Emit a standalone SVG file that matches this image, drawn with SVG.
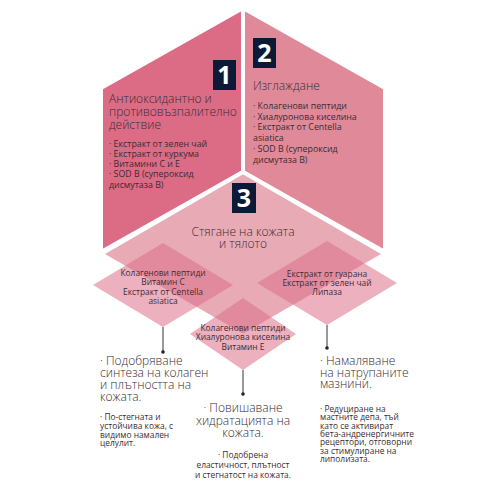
<svg xmlns="http://www.w3.org/2000/svg" width="500" height="500" viewBox="0 0 500 500">
<style>
text{font-family:"Open Sans","Liberation Sans",sans-serif;font-weight:300;fill:#3a2d33}
.t{font-size:12px}
.b{font-size:8.8px;font-weight:400}
.d{font-size:8.4px;text-anchor:middle;font-weight:400}
.c{text-anchor:middle}
.o{font-size:12px}
.s{font-size:8.4px;font-weight:400}
.num{font-weight:700;font-size:25px;fill:#fff;text-anchor:middle}
.badge{fill:#0c1a38}
.panel{stroke:#fff;stroke-width:4;stroke-linejoin:miter}
.dia{fill:#dc6f8a;fill-opacity:0.55}
.conn{stroke:#777;stroke-width:1.5}
</style>
<rect width="500" height="500" fill="#fff"/>
<g id="panel1">
<polygon class="panel" fill="#dc6b86" points="243,8 101,88 101,252 243,172"/>
<rect class="badge" x="213" y="60" width="23" height="30"/>
<text class="num" x="224.5" y="84">1</text>
<text class="t" x="109" y="103">Антиоксидантно и</text>
<text class="t" x="109" y="116">противовъзпалително</text>
<text class="t" x="109" y="128.5">действие</text>
<text class="b" x="109" y="146.5">· Екстракт от зелен чай</text>
<text class="b" x="109" y="156.8">· Екстракт от куркума</text>
<text class="b" x="109" y="167.1">· Витамини С и Е</text>
<text class="b" x="109" y="177.4">· SOD B (супероксид</text>
<text class="b" x="109" y="187.7">дисмутаза В)</text>
</g>
<g id="panel2">
<polygon class="panel" fill="#e08999" points="243,8 385,88 385,252 243,172"/>
<rect class="badge" x="253" y="38" width="23" height="30"/>
<text class="num" x="264.5" y="62">2</text>
<text class="t" x="253" y="90">Изглаждане</text>
<text class="b" x="253" y="109">· Колагенови пептиди</text>
<text class="b" x="253" y="119.7">· Хиалуронова киселина</text>
<text class="b" x="253" y="130.4">· Екстракт от Centella</text>
<text class="b" x="253" y="141.1">asiatica</text>
<text class="b" x="253" y="151.8">· SOD B (супероксид</text>
<text class="b" x="253" y="162.5">дисмутаза В)</text>
</g>
<g id="panel3">
<polygon class="panel" fill="#e8aab4" points="243,172 101,254 243,336 385,254"/>
<rect class="badge" x="232" y="183" width="24" height="30"/>
<text class="num" x="244" y="207">3</text>
<text class="t c" x="243" y="236">Стягане на кожата</text>
<text class="t c" x="243" y="248">и тялото</text>
</g>
<g id="connectors">
<line class="conn" x1="163" y1="327" x2="163" y2="352"/>
<circle cx="163" cy="352" r="1.8" fill="#222"/>
<line class="conn" x1="243" y1="370" x2="243" y2="394"/>
<circle cx="243" cy="394" r="1.8" fill="#222"/>
<line class="conn" x1="327" y1="325" x2="327" y2="348"/>
<circle cx="327" cy="348" r="1.8" fill="#222"/>
</g>
<g id="diamond-left">
<polygon class="dia" points="163,243 233,285 163,327 93,285"/>
<text class="d" x="163" y="276">Колагенови пептиди</text>
<text class="d" x="163" y="285.3">Витамин С</text>
<text class="d" x="163" y="294.6">Екстракт от Centella</text>
<text class="d" x="163" y="304">asiatica</text>
</g>
<g id="diamond-right">
<polygon class="dia" points="327,241 397,283 327,325 257,283"/>
<text class="d" x="327" y="276.5">Екстракт от гуарана</text>
<text class="d" x="327" y="285.8">Екстракт от зелен чай</text>
<text class="d" x="327" y="295.1">Липаза</text>
</g>
<g id="diamond-middle">
<polygon class="dia" points="243,298 296,334 243,370 190,334"/>
<text class="d" x="243" y="331">Колагенови пептиди</text>
<text class="d" x="243" y="340.3">Хиалуронова киселина</text>
<text class="d" x="243" y="349.6">Витамин Е</text>
</g>
<g id="outcome-left">
<text class="o" x="100" y="365">· Подобряване</text>
<text class="o" x="100" y="377">синтеза на колаген</text>
<text class="o" x="100" y="389">и плътността на</text>
<text class="o" x="100" y="400.5">кожата.</text>
<text class="s" x="100" y="420">· По-стегната и</text>
<text class="s" x="100" y="428.8">устойчива кожа, с</text>
<text class="s" x="100" y="437.6">видимо намален</text>
<text class="s" x="100" y="446.4">целулит.</text>
</g>
<g id="outcome-middle">
<text class="o c" x="243" y="412">· Повишаване</text>
<text class="o c" x="243" y="424.5">хидратацията на</text>
<text class="o c" x="243" y="437">кожата.</text>
<text class="s c" x="243" y="458">· Подобрена</text>
<text class="s c" x="243" y="468">еластичност, плътност</text>
<text class="s c" x="243" y="478">и стегнатост на кожата.</text>
</g>
<g id="outcome-right">
<text class="o" x="320" y="365">· Намаляване</text>
<text class="o" x="320" y="376.7">на натрупаните</text>
<text class="o" x="320" y="388">мазнини.</text>
<text class="s" x="320" y="411.7">· Редуциране на</text>
<text class="s" x="320" y="420.2">мастните депа, тъй</text>
<text class="s" x="320" y="428.6">като се активират</text>
<text class="s" x="320" y="437">бета-андренергичните</text>
<text class="s" x="320" y="445.4">рецептори, отговорни</text>
<text class="s" x="320" y="453.8">за стимулиране на</text>
<text class="s" x="320" y="462.2">липолизата.</text>
</g>
</svg>
